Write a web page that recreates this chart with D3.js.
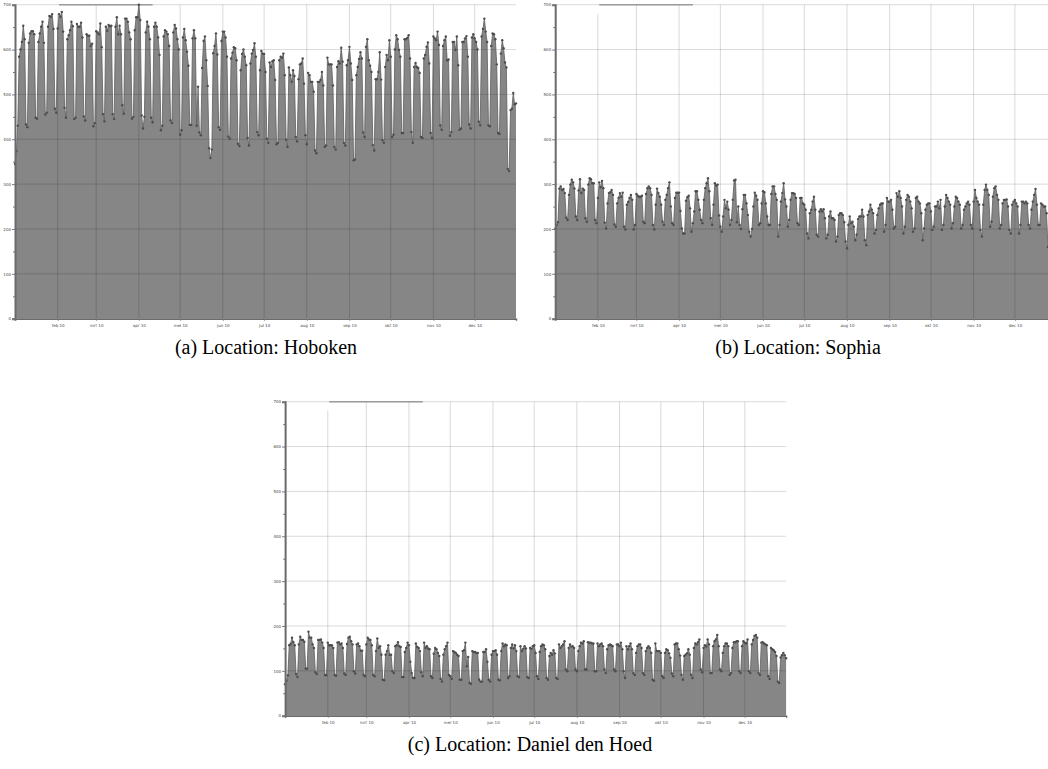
<!DOCTYPE html>
<html>
<head>
<meta charset="utf-8">
<script src="https://cdn.jsdelivr.net/npm/d3@7"></script>
<style>
  body { margin: 0; background: #fff; }
  svg { display: block; }
</style>
</head>
<body>
<div id="chart"></div>
<script>
// Daily values for 2010, first entry is 1 Jan 2010
const firstDay = new Date(2010, 0, 1);
const lastDay = new Date(2010, 11, 31);

const monthLabels = ["feb 10", "mrt 10", "apr 10", "mei 10", "jun 10", "jul 10",
  "aug 10", "sep 10", "okt 10", "nov 10", "dec 10"];
const yTicks = [0, 100, 200, 300, 400, 500, 600, 700];
const yMinorTicks = [50, 150, 250, 350, 450, 550, 650];

const hoboken = [
  345, 374, 430,
  584, 600, 617, 653, 623, 433, 427,
  615, 636, 641, 641, 634, 448, 446,
  617, 636, 651, 662, 615, 455, 459,
  651, 675, 673, 679, 646, 468, 459,
  647, 679, 673, 684, 640, 470, 448,
  623, 632, 643, 662, 652, 445, 448,
  657, 651, 651, 660, 627, 451, 442,
  634, 631, 631, 608, 613, 429, 436,
  641, 638, 634, 658, 605, 456, 440,
  651, 642, 655, 652, 653, 456, 445,
  651, 672, 634, 653, 634, 476, 457,
  669, 669, 662, 638, 623, 446, 450,
  643, 672, 672, 700, 666, 453, 424,
  450, 638, 662, 651, 623, 448, 438,
  651, 660, 651, 627, 588, 420, 430,
  629, 643, 640, 634, 608, 442, 436,
  638, 655, 647, 623, 600, 410, 420,
  627, 646, 621, 595, 564, 432, 432,
  625, 643, 625, 430, 517, 415, 409,
  559, 619, 629, 576, 519, 380, 358,
  377, 592, 608, 636, 589, 427, 421,
  619, 640, 640, 627, 584, 406, 401,
  580, 593, 605, 603, 576, 390, 385,
  554, 590, 600, 584, 565, 403, 386,
  569, 591, 599, 614, 584, 416, 409,
  554, 597, 591, 590, 550, 401, 392,
  571, 561, 574, 576, 532, 389, 392,
  576, 584, 582, 591, 543, 399, 383,
  560, 543, 528, 554, 541, 405, 395,
  534, 567, 569, 580, 524, 409, 389,
  548, 543, 528, 528, 506, 375, 369,
  528, 528, 532, 550, 520, 383, 386,
  582, 567, 567, 567, 520, 383, 377,
  561, 574, 569, 604, 573, 392, 386,
  565, 576, 606, 569, 532, 353, 355,
  543, 561, 579, 594, 580, 415, 405,
  606, 623, 576, 564, 550, 387, 375,
  534, 534, 550, 594, 533, 398, 392,
  561, 588, 576, 621, 584, 405, 410,
  600, 632, 623, 599, 584, 414, 414,
  623, 623, 626, 632, 580, 416, 392,
  561, 570, 561, 559, 548, 405, 403,
  580, 588, 606, 616, 569, 414, 403,
  629, 625, 621, 640, 610, 431, 421,
  608, 621, 629, 576, 578, 408, 416,
  617, 617, 599, 629, 565, 421, 424,
  617, 617, 625, 630, 584, 433, 424,
  627, 634, 625, 617, 600, 439, 431,
  629, 646, 669, 640, 617, 431, 429,
  608, 636, 634, 623, 567, 414, 412,
  591, 621, 603, 571, 560, 334, 329,
  465, 468, 503, 478, 480
];

const sophia = [
  200, 209, 215,
  290, 295, 287, 289, 280, 225, 220,
  276, 299, 310, 304, 290, 228, 220,
  286, 311, 280, 290, 287, 224, 216,
  299, 313, 311, 302, 302, 220, 213,
  269, 304, 293, 307, 291, 214, 201,
  257, 280, 282, 287, 276, 210, 205,
  257, 269, 280, 272, 281, 205, 199,
  254, 260, 269, 276, 265, 199, 209,
  278, 274, 272, 272, 274, 216, 213,
  278, 291, 295, 291, 276, 209, 199,
  254, 290, 280, 272, 254, 216, 209,
  265, 276, 291, 304, 250, 213, 209,
  269, 281, 281, 281, 240, 201, 190,
  190, 263, 271, 274, 246, 194, 213,
  239, 284, 284, 265, 243, 220, 213,
  265, 291, 302, 313, 284, 224, 209,
  254, 302, 297, 299, 230, 205, 194,
  228, 265, 246, 261, 243, 209, 220,
  265, 308, 310, 215, 250, 209, 200,
  244, 276, 276, 257, 231, 194, 183,
  200, 250, 281, 274, 265, 209, 213,
  257, 284, 282, 257, 228, 209, 209,
  278, 295, 295, 278, 265, 183, 209,
  261, 280, 302, 266, 250, 205, 220,
  265, 280, 280, 278, 269, 213, 209,
  269, 269, 257, 254, 243, 190, 179,
  235, 243, 261, 272, 243, 187, 183,
  239, 244, 239, 244, 224, 179, 187,
  228, 239, 224, 224, 220, 172, 183,
  231, 235, 235, 231, 215, 172, 157,
  209, 228, 213, 216, 205, 175, 187,
  222, 228, 228, 243, 228, 175, 164,
  231, 239, 254, 243, 235, 190, 198,
  231, 246, 254, 257, 257, 194, 209,
  269, 261, 261, 265, 243, 201, 205,
  280, 272, 284, 269, 250, 190, 205,
  265, 276, 272, 261, 246, 194, 201,
  269, 272, 261, 257, 235, 175, 201,
  243, 254, 257, 257, 239, 198, 205,
  250, 250, 261, 246, 265, 198, 209,
  250, 276, 269, 261, 254, 201, 213,
  250, 272, 269, 261, 254, 201, 209,
  243, 250, 257, 261, 254, 209, 201,
  261, 287, 269, 261, 254, 198, 183,
  254, 287, 299, 287, 276, 205, 216,
  272, 291, 295, 276, 265, 201, 209,
  257, 265, 265, 266, 250, 198, 190,
  254, 261, 265, 257, 250, 190, 209,
  261, 261, 257, 261, 257, 209, 201,
  243, 261, 276, 289, 254, 209, 209,
  257, 254, 250, 250, 235, 160, 150,
  200, 205, 210, 205, 190
];

const danielDenHoed = [
  70, 78, 90,
  157, 160, 174, 164, 157, 93, 86,
  159, 176, 169, 169, 165, 105, 105,
  187, 174, 174, 159, 151, 97, 93,
  169, 169, 170, 163, 151, 91, 90,
  163, 157, 157, 157, 151, 91, 89,
  163, 164, 159, 161, 151, 94, 91,
  160, 174, 176, 166, 159, 99, 94,
  159, 161, 155, 145, 145, 91, 88,
  159, 174, 170, 169, 157, 91, 88,
  144, 172, 151, 155, 136, 80, 79,
  136, 144, 157, 136, 136, 99, 95,
  155, 157, 164, 155, 153, 86, 86,
  142, 151, 163, 157, 120, 95, 84,
  84, 161, 153, 151, 144, 97, 88,
  163, 151, 155, 150, 148, 88, 84,
  138, 151, 148, 140, 133, 82, 76,
  136, 148, 155, 163, 91, 88, 82,
  144, 142, 140, 136, 133, 80, 80,
  144, 146, 163, 110, 131, 73, 71,
  144, 142, 142, 140, 140, 80, 76,
  76, 142, 142, 148, 120, 80, 76,
  136, 144, 144, 146, 136, 80, 79,
  144, 161, 155, 159, 157, 84, 88,
  151, 159, 150, 157, 144, 88, 86,
  155, 144, 149, 155, 150, 86, 84,
  151, 149, 155, 157, 140, 88, 82,
  142, 155, 159, 157, 148, 84, 80,
  133, 140, 136, 146, 139, 84, 82,
  159, 151, 155, 159, 166, 103, 99,
  151, 159, 154, 155, 151, 103, 99,
  144, 155, 163, 161, 166, 103, 103,
  164, 163, 163, 161, 161, 99, 99,
  161, 155, 159, 161, 155, 103, 95,
  148, 157, 159, 157, 155, 103, 99,
  159, 159, 155, 163, 148, 99, 84,
  155, 148, 155, 161, 148, 95, 91,
  140, 155, 159, 159, 151, 95, 91,
  144, 151, 155, 151, 140, 80, 78,
  161, 144, 144, 144, 140, 88, 84,
  140, 148, 146, 139, 129, 94, 88,
  159, 161, 161, 148, 134, 91, 80,
  133, 136, 139, 148, 136, 91, 84,
  151, 161, 159, 164, 170, 103, 97,
  151, 157, 154, 170, 159, 95, 95,
  155, 166, 170, 180, 155, 103, 99,
  140, 155, 161, 161, 155, 91, 95,
  151, 164, 164, 166, 166, 99, 95,
  155, 166, 163, 161, 170, 99, 95,
  159, 169, 178, 180, 174, 95, 91,
  163, 164, 161, 159, 157, 88, 82,
  151, 148, 146, 142, 133, 76, 73,
  130, 135, 140, 135, 128
];

// Layout
const plotWidth = 501;
const plotHeight = 314;

const panels = [
  { values: hoboken, caption: "(a) Location: Hoboken", left: 15, top: 4.7, capX: 266, capY: 354 },
  { values: sophia, caption: "(b) Location: Sophia", left: 555.2, top: 4.7, capX: 798, capY: 354 },
  { values: danielDenHoed, caption: "(c) Location: Daniel den Hoed", left: 285.1, top: 401.7, capX: 530, capY: 751 }
];

const svg = d3.select("#chart")
  .append("svg")
  .attr("width", 1048)
  .attr("height", 769);

const x = d3.scaleTime()
  .domain([firstDay, lastDay])
  .range([0, plotWidth]);

const y = d3.scaleLinear()
  .domain([0, 700])
  .range([plotHeight, 0]);

const monthDates = d3.timeMonth.range(new Date(2010, 1, 1), new Date(2011, 0, 1));

// the darker strip on the top edge of every panel
const topStrip = [new Date(2010, 1, 2), new Date(2010, 3, 11)];

panels.forEach(p => {
  const data = p.values.map((v, i) => ({ date: d3.timeDay.offset(firstDay, i), value: v }));

  const g = svg.append("g")
    .attr("transform", `translate(${p.left},${p.top})`);

  // Filled area
  g.append("path")
    .datum(data)
    .attr("fill", "#868686")
    .attr("d", d3.area()
      .x(d => x(d.date))
      .y0(y(0))
      .y1(d => y(d.value)));

  // Grid on top of the area
  g.append("g")
    .selectAll("line")
    .data(yTicks.slice(1))
    .enter()
    .append("line")
    .attr("x1", 0)
    .attr("x2", plotWidth)
    .attr("y1", d => y(d))
    .attr("y2", d => y(d))
    .attr("stroke", "#000")
    .attr("stroke-opacity", 0.15)
    .attr("stroke-width", 1);

  g.append("g")
    .selectAll("line")
    .data(monthDates)
    .enter()
    .append("line")
    .attr("x1", d => x(d))
    .attr("x2", d => x(d))
    .attr("y1", (d, i) => i === 0 ? y(680) : y(700))
    .attr("y2", y(0))
    .attr("stroke", "#000")
    .attr("stroke-opacity", 0.15)
    .attr("stroke-width", 1);

  g.append("line")
    .attr("x1", x(topStrip[0]))
    .attr("x2", x(topStrip[1]))
    .attr("y1", y(700))
    .attr("y2", y(700))
    .attr("stroke", "#9a9a9a")
    .attr("stroke-width", 1.5);

  // Line and dots
  g.append("path")
    .datum(data)
    .attr("fill", "none")
    .attr("stroke", "#5e5e5e")
    .attr("stroke-width", 0.8)
    .attr("d", d3.line()
      .x(d => x(d.date))
      .y(d => y(d.value)));

  g.append("g")
    .selectAll("circle")
    .data(data)
    .enter()
    .append("circle")
    .attr("cx", d => x(d.date))
    .attr("cy", d => y(d.value))
    .attr("r", 1.2)
    .attr("fill", "#4d4d4d");

  // Y axis
  const yAxis = g.append("g")
    .call(d3.axisLeft(y).tickValues(yTicks).tickSize(3).tickPadding(1));
  g.append("g")
    .call(d3.axisLeft(y).tickValues(yMinorTicks).tickSize(2).tickFormat(""))
    .select(".domain").remove();
  yAxis.select(".domain").attr("stroke", "#6a6a6a").attr("stroke-width", 2);

  // X axis
  const xAxis = g.append("g")
    .attr("transform", `translate(0,${plotHeight})`)
    .call(d3.axisBottom(x).tickValues(monthDates).tickFormat((d, i) => monthLabels[i]).tickSize(2).tickPadding(3));
  xAxis.select(".domain").attr("stroke", "#6a6a6a").attr("stroke-width", 1.5);

  g.selectAll(".tick line").attr("stroke", "#777");
  g.selectAll(".tick text")
    .attr("font-family", "DejaVu Sans, sans-serif")
    .attr("font-size", "4px")
    .attr("fill", "#444");

  // Caption
  svg.append("text")
    .attr("x", p.capX)
    .attr("y", p.capY)
    .attr("text-anchor", "middle")
    .attr("font-family", "Liberation Serif, serif")
    .attr("font-size", "20px")
    .attr("fill", "#000")
    .text(p.caption);
});
</script>
</body>
</html>
